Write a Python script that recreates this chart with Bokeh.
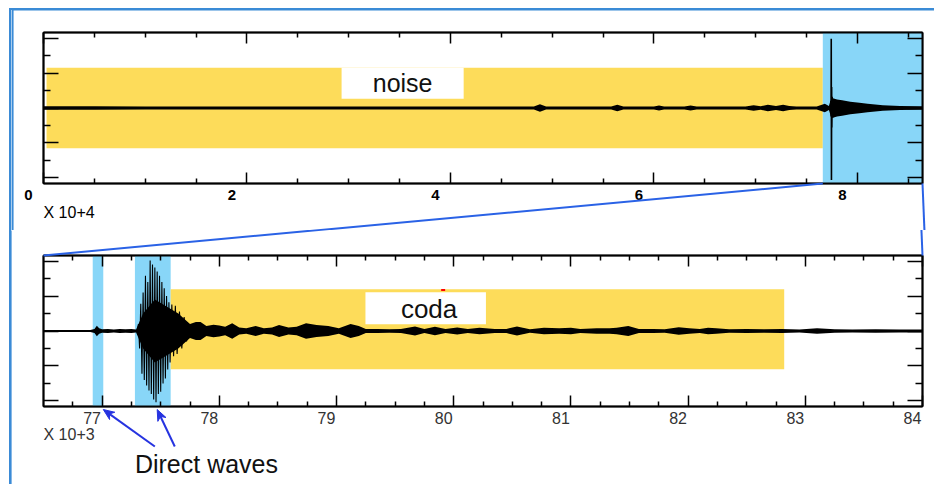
import math
import numpy as np
from bokeh.plotting import figure
from bokeh.layouts import column
from bokeh.models import (LinearAxis, FixedTicker, ColumnDataSource, Range1d,
                          CustomJSTickFormatter)
from bokeh.core.properties import value
from bokeh.embed import file_html
from bokeh.resources import INLINE

# ---------------------------------------------------------------- data
top_xlim = (0.0, 8.64)          # time x 10^4 s (one day)
bot_xlim = (76.5, 84.0)         # time x 10^3 s (zoom)
ylim = (-1.08, 1.08)            # normalised amplitude

top_ticks = [0, 2, 4, 6, 8]
top_tick_labels = ["0", "2", "4", "6", "8"]
top_minor = [0.5, 1.0, 1.5, 2.5, 3.0, 3.5, 4.5, 5.0, 5.5, 6.5, 7.0, 7.5, 8.5]
bot_ticks = [77, 78, 79, 80, 81, 82, 83, 84]
bot_tick_labels = ["77", "78", "79", "80", "81", "82", "83", "84"]
bot_minor = [76.75, 77.25, 77.5, 77.75, 78.25, 78.5, 78.75, 79.25, 79.5, 79.75,
             80.25, 80.5, 80.75, 81.25, 81.5, 81.75, 82.25, 82.5, 82.75,
             83.25, 83.5, 83.75]
y_ticks = [-1.0, -0.5, 0.0, 0.5, 1.0]
y_minor = [-0.75, -0.25, 0.25, 0.75]

# analysis windows
noise_window = (0.03, 7.66)
noise_half = 0.577
zoom_window = (7.66, 8.64)
direct_left = [76.92, 77.28]
direct_right = [77.01, 77.585]
coda_window = (77.585, 82.82)
coda_lo, coda_hi = -0.546, 0.598

# top trace: envelope (half amplitude)
top_env_t = [0.00, 0.50, 1.00, 1.50, 2.00, 2.50, 3.00, 3.50, 4.00, 4.50, 4.82, 4.88,
             4.94, 5.20, 5.58, 5.64, 5.70, 6.00, 6.05, 6.10, 6.30, 6.36, 6.42, 6.90,
             6.98, 7.05, 7.12, 7.20, 7.27, 7.33, 7.40, 7.60, 7.68, 7.72, 7.74, 7.76,
             7.80, 7.85, 7.93, 8.02, 8.10, 8.25, 8.42, 8.64]
top_env_a = [0.025, 0.025, 0.022, 0.020, 0.020, 0.020, 0.020, 0.020, 0.020, 0.020, 0.020, 0.055,
             0.020, 0.020, 0.020, 0.045, 0.020, 0.020, 0.035, 0.020, 0.020, 0.035, 0.020, 0.020,
             0.040, 0.025, 0.045, 0.030, 0.045, 0.030, 0.020, 0.020, 0.060, 0.030, 0.120, 0.140,
             0.120, 0.110, 0.090, 0.075, 0.060, 0.040, 0.030, 0.025]
# top trace: main arrival swings
top_spike_t = [7.735, 7.739, 7.741, 7.743, 7.745, 7.747, 7.749, 7.752, 7.755, 7.758]
top_spike_y = [0.00, 0.10, -0.12, 0.99, -1.03, 0.30, -0.28, 0.16, -0.14, 0.00]

# bottom trace: envelope
bot_env_t = [76.50, 76.70, 76.90, 76.935, 76.955, 76.975, 77.00, 77.05, 77.10, 77.15, 77.20,
             77.25, 77.29, 77.35, 77.45, 77.55, 77.65, 77.75, 77.80, 77.84, 77.89, 77.95,
             78.00, 78.05, 78.11, 78.17, 78.23, 78.31, 78.38, 78.45, 78.51, 78.59, 78.66,
             78.74, 78.83, 78.93, 79.02, 79.12, 79.19, 79.25, 79.35, 79.45, 79.55, 79.67,
             79.75, 79.84, 79.93, 80.03, 80.12, 80.22, 80.35, 80.45, 80.54, 80.65, 80.77,
             80.90, 81.00, 81.08, 81.22, 81.33, 81.39, 81.49, 81.58, 81.70, 81.80, 81.92,
             82.01, 82.10, 82.17, 82.24, 82.35, 82.50, 82.65, 82.80, 82.95, 83.10, 83.25,
             83.40, 83.60, 83.80, 84.00]
bot_env_a = [0.015, 0.015, 0.015, 0.030, 0.075, 0.040, 0.025, 0.030, 0.020, 0.030, 0.025,
             0.030, 0.020, 0.250, 0.450, 0.350, 0.250, 0.100, 0.130, 0.130, 0.070, 0.090,
             0.080, 0.060, 0.110, 0.050, 0.040, 0.070, 0.040, 0.050, 0.085, 0.050, 0.060,
             0.110, 0.085, 0.070, 0.040, 0.100, 0.070, 0.030, 0.030, 0.025, 0.030, 0.065,
             0.030, 0.060, 0.030, 0.050, 0.030, 0.045, 0.030, 0.030, 0.065, 0.025, 0.045,
             0.040, 0.045, 0.030, 0.040, 0.040, 0.045, 0.070, 0.030, 0.030, 0.025, 0.055,
             0.040, 0.030, 0.045, 0.040, 0.025, 0.030, 0.025, 0.030, 0.020, 0.040, 0.025,
             0.020, 0.025, 0.020, 0.020]
# bottom trace: direct-wave swings
bot_wig_t = [77.300, 77.310, 77.320, 77.330, 77.340, 77.350, 77.360, 77.370, 77.380, 77.390,
             77.400, 77.410, 77.420, 77.430, 77.440, 77.450, 77.460, 77.470, 77.480, 77.490,
             77.500, 77.510, 77.520, 77.530, 77.540, 77.550, 77.560, 77.570, 77.580, 77.595,
             77.610, 77.625, 77.640, 77.660, 77.680, 77.700, 77.720, 77.740]
bot_wig_y = [0.00, 0.10, -0.25, 0.39, -0.61, 0.55, -0.70, 0.79, -0.78, 0.70,
             -0.85, 1.01, -0.90, 0.95, -0.98, 0.91, -1.02, 0.85, -0.90, 0.79,
             -0.87, 0.70, -0.75, 0.61, -0.68, 0.50, -0.55, 0.41, -0.45, 0.38,
             -0.36, 0.36, -0.33, 0.28, -0.25, 0.20, -0.15, 0.00]

# ---------------------------------------------------------------- style
FONT = "Liberation Sans"
YELLOW = "#fddc5a"
CYAN = "#88d6f8"
LINKBLUE = "#2a62e6"
ARROWBLUE = "#2633e0"
FRAMEBLUE = "#3b8bd6"

# layout (page px): figure origin, size and min borders
TOP = dict(cx=0, cy=0, w=934, h=230, bl=41, br=12, bt=32, bb=47, xr=top_xlim)
BOT = dict(cx=0, cy=230, w=934, h=254, bl=43, br=9, bt=25, bb=78, xr=bot_xlim)


def frame_box(c):
    fl = c["cx"] + c["bl"]
    ft = c["cy"] + c["bt"]
    fw = c["w"] - c["bl"] - c["br"]
    fh = c["h"] - c["bt"] - c["bb"]
    return fl, ft, fw, fh


def to_page(c, x, y):
    fl, ft, fw, fh = frame_box(c)
    x0, x1 = c["xr"]
    px = fl + (x - x0) / (x1 - x0) * fw
    py = ft + (ylim[1] - y) / (ylim[1] - ylim[0]) * fh
    return px, py


def to_data(c, px, py):
    fl, ft, fw, fh = frame_box(c)
    x0, x1 = c["xr"]
    x = x0 + (px - fl) / fw * (x1 - x0)
    y = ylim[1] - (py - ft) / fh * (ylim[1] - ylim[0])
    return x, y


def below_frame(c, dy):
    fl, ft, fw, fh = frame_box(c)
    return to_data(c, fl, ft + fh + dy)[1]


def page_line(c, p, pts, color, width):
    d = [to_data(c, *q) for q in pts]
    p.line([q[0] for q in d], [q[1] for q in d], line_color=color, line_width=width,
           level="overlay")


def page_patch(c, p, pts, color):
    d = [to_data(c, *q) for q in pts]
    p.patch([q[0] for q in d], [q[1] for q in d], fill_color=color, line_color=None,
            level="overlay")


def make_axis(ticks, minor, tick_in, minor_in):
    ax = LinearAxis(ticker=FixedTicker(ticks=ticks, minor_ticks=minor),
                    formatter=CustomJSTickFormatter(code="return ''"))
    ax.axis_line_color = "black"
    ax.axis_line_width = 2
    ax.major_tick_in = tick_in
    ax.major_tick_out = 0
    ax.minor_tick_in = minor_in
    ax.minor_tick_out = 0
    ax.major_tick_line_color = "black"
    ax.minor_tick_line_color = "black"
    ax.major_tick_line_width = 1.5
    ax.minor_tick_line_width = 1.5
    ax.major_label_standoff = 0
    ax.major_label_text_font_size = "1px"
    return ax


def make_panel(c, ticks, minor):
    p = figure(width=c["w"], height=c["h"], x_range=Range1d(*c["xr"]),
               y_range=Range1d(*ylim), output_backend="svg", toolbar_location=None,
               x_axis_location=None, y_axis_location=None,
               min_border_left=c["bl"], min_border_right=c["br"],
               min_border_top=c["bt"], min_border_bottom=c["bb"],
               background_fill_color="white", border_fill_color=None,
               outline_line_color="black", outline_line_width=1.5)
    p.xgrid.visible = False
    p.ygrid.visible = False
    p.add_layout(make_axis(ticks, minor, 11, 5), "below")
    p.add_layout(make_axis(ticks, minor, 11, 5), "above")
    p.add_layout(make_axis(y_ticks, y_minor, 15, 7), "left")
    p.add_layout(make_axis(y_ticks, y_minor, 15, 7), "right")
    return p


def free_text(p, xs, ys, texts, size, color, align="center", style="normal", dx=0):
    p.text(x=xs, y=ys, text=texts, text_font=value(FONT), text_font_size=size,
           text_font_style=style, text_align=align, text_baseline="middle",
           text_color=color, x_offset=dx, level="overlay")


# ---------------------------------------------------------------- top panel
top = make_panel(TOP, top_ticks, top_minor)
top.quad(left=[noise_window[0]], right=[noise_window[1]], bottom=[-noise_half], top=[noise_half],
         fill_color=YELLOW, line_color=None)
top.quad(left=[zoom_window[0]], right=[zoom_window[1]], bottom=[ylim[0]], top=[ylim[1]],
         fill_color=CYAN, line_color=None)
top.quad(left=[2.93], right=[4.13], bottom=[0.133], top=[noise_half],
         fill_color="white", line_color=None)
top.text(x=[3.53], y=[0.355], text=["noise"], text_font=value(FONT), text_font_size="25px",
         text_align="center", text_baseline="middle", text_color="#111111")

tsrc = ColumnDataSource(dict(t=top_env_t, hi=np.array(top_env_a), lo=-np.array(top_env_a)))
top.varea(x="t", y1="lo", y2="hi", source=tsrc, fill_color="black")
top.line(top_spike_t, top_spike_y, line_color="black", line_width=1.6)

free_text(top, top_ticks, [below_frame(TOP, 11)] * len(top_ticks), top_tick_labels,
          "15px", "black", style="bold", dx=-15)
free_text(top, [top_xlim[0]], [below_frame(TOP, 29)], ["X 10+4"], "16px", "black",
          align="left")

# ---------------------------------------------------------------- bottom panel
bot = make_panel(BOT, bot_ticks, bot_minor)
bot.quad(left=direct_left, right=direct_right, bottom=[ylim[0]] * 2, top=[ylim[1]] * 2,
         fill_color=CYAN, line_color=None)
bot.quad(left=[coda_window[0]], right=[coda_window[1]], bottom=[coda_lo], top=[coda_hi],
         fill_color=YELLOW, line_color=None)
bot.quad(left=[79.247], right=[80.275], bottom=[0.097], top=[0.555],
         fill_color="white", line_color=None)
bot.text(x=[79.79], y=[0.31], text=["coda"], text_font=value(FONT), text_font_size="26px",
         text_align="center", text_baseline="middle", text_color="#111111")
bot.scatter(x=[79.91], y=[0.585], marker="dash", size=4, line_color="red", line_width=2)

bsrc = ColumnDataSource(dict(t=bot_env_t, hi=np.array(bot_env_a), lo=-np.array(bot_env_a)))
bot.varea(x="t", y1="lo", y2="hi", source=bsrc, fill_color="black")
bot.line(bot_wig_t, bot_wig_y, line_color="black", line_width=1.1)

free_text(bot, bot_ticks, [below_frame(BOT, 11)] * len(bot_ticks), bot_tick_labels,
          "16px", "#333333", dx=-10)
free_text(bot, [bot_xlim[0]], [below_frame(BOT, 28)], ["X 10+3"], "16px", "#333333",
          align="left")

# "Direct waves" annotation with arrows to the two direct-wave windows
tips = [to_page(BOT, direct_right[0], ylim[0]), to_page(BOT, 77.47, ylim[0])]
tails = [to_page(BOT, 77.45, ylim[0]), to_page(BOT, 77.62, ylim[0])]
for (tx, ty), (sx, sy) in zip(tips, tails):
    ty += 3
    sy += 40
    L = math.hypot(tx - sx, ty - sy)
    ux, uy = (tx - sx) / L, (ty - sy) / L
    nx, ny = -uy, ux
    hl, hw = 11, 4.5
    page_line(BOT, bot, [(sx, sy), (tx - 0.6 * hl * ux, ty - 0.6 * hl * uy)], ARROWBLUE, 2)
    head = [(tx, ty), (tx - hl * ux + hw * nx, ty - hl * uy + hw * ny),
            (tx - 0.7 * hl * ux, ty - 0.7 * hl * uy),
            (tx - hl * ux - hw * nx, ty - hl * uy - hw * ny)]
    hd = [to_data(BOT, *q) for q in head]
    bot.patch([q[0] for q in hd], [q[1] for q in hd], fill_color=ARROWBLUE,
              line_color=ARROWBLUE, line_width=1, level="overlay")
free_text(bot, [77.28], [below_frame(BOT, 57)], ["Direct waves"], "25px", "#111111",
          align="left")

# ---------------------------------------------------------------- zoom connectors + outer frame
links = [
    (to_page(TOP, zoom_window[0], ylim[0]), to_page(BOT, bot_xlim[0], ylim[1])),
    (to_page(TOP, top_xlim[1], ylim[0]), to_page(BOT, bot_xlim[1], ylim[1])),
]
for c, p in ((TOP, top), (BOT, bot)):
    for a, b in links:
        page_line(c, p, [a, b], LINKBLUE, 2)

# outer blue frame: an L-shaped strip along the top and left edges of the page
page_patch(TOP, top, [(9, 8), (934, 8), (934, 10), (11, 10), (11, 230), (9, 230)], FRAMEBLUE)
page_patch(BOT, bot, [(9, 230), (11, 230), (11, 484), (9, 484)], FRAMEBLUE)

page_bg = ("linear-gradient(#3b8bd6, #3b8bd6) 9px 8px / 925px 2px no-repeat, "
           "linear-gradient(#3b8bd6, #3b8bd6) 9px 8px / 2px 476px no-repeat, white")
layout = column(top, bot, spacing=0, styles={"background": page_bg})
open("out.html", "w").write(file_html(layout, INLINE))
